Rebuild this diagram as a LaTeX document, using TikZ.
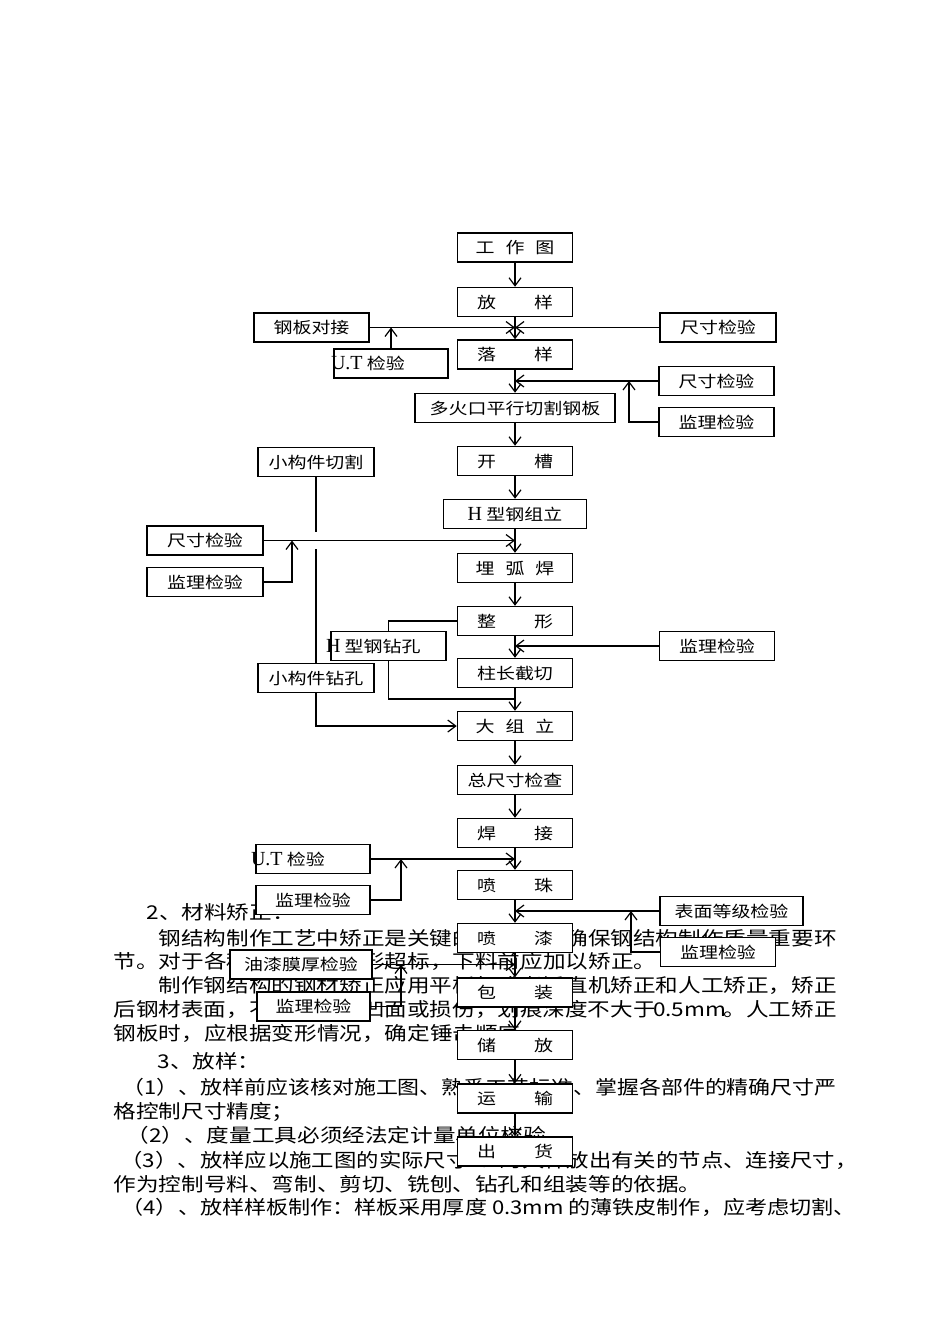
\documentclass[tikz,border=0pt]{standalone}
\usepackage{fontspec}
\usepackage{graphicx}
\usetikzlibrary{arrows.meta}
\newfontfamily\boxfont[FakeStretch=1.2]{Noto Sans CJK SC}
\newfontfamily\bodyfont[FakeStretch=1.19]{Noto Sans CJK SC}
\newfontfamily\latfont{Liberation Serif}
\newlength\pxu \setlength\pxu{0.5pt}
\newcommand\lat[1]{{\latfont\fontsize{10pt}{12pt}\selectfont #1}}
\newcommand\gapx[1]{\hspace{#1\pxu}}
\newcommand\fitw[2]{\resizebox{#1\pxu}{\height}{#2}}

\begin{document}
\begin{tikzpicture}[x=0.5pt,y=-0.5pt,line width=0.6pt,
  >={Straight Barb[length=4pt,width=6pt]},
  box/.style={draw,fill=white,line width=0.75pt,inner sep=0pt,
    minimum width=#1*0.5pt,minimum height=14.5pt,text height=6.6pt,text depth=0.6pt,
    font=\boxfont\fontsize{7.9pt}{9pt}\selectfont},
  box/.default=115,
  txt/.style={inner sep=0pt,anchor=west,text height=7.9pt,text depth=0.7pt,
    font=\bodyfont\fontsize{9.5pt}{11pt}\selectfont}]
  \fill[white] (0,0) rectangle (950,1344);
  \useasboundingbox (0,0) rectangle (950,1344);
  % body text behind the chart
  \node[txt] (t0) at (146,912) {2、材料矫正：};
  \node[txt] (t1) at (158,938) {\fitw{678}{钢结构制作工艺中矫正是关键的工序，是确保钢结构制作质量重要环}};
  \node[txt] (t2) at (113,961) {节。对于各种钢材如有变形超标，下料前应加以矫正。};
  \node[txt] (t3) at (158,985) {\fitw{678}{制作钢结构的钢材矫正应用平板机或者矫直机矫正和人工矫正，矫正}};
  \node[txt] (t4) at (113,1009) {\fitw{723}{后钢材表面，不应有明显凹面或损伤，划痕深度不大于\makebox[68\pxu]{0.5mm}。人工矫正}};
  \node[txt] (t5) at (113,1033) {钢板时，应根据变形情况，确定锤击顺序。};
  \node[txt] (t6) at (157,1061) {3、放样：};
  \node[txt] (t7) at (122,1087.5) {\fitw{714}{（1）、放样前应该核对施工图、熟悉工艺标准、掌握各部件的精确尺寸严}};
  \node[txt] (t8) at (113,1111) {格控制尺寸精度；};
  \node[txt] (t9) at (126,1135) {（2）、度量工具必须经法定计量单位校验。};
  \node[txt] (t10) at (120,1160) {\fitw{737}{（3）、放样应以施工图的实际尺寸1:1的大样放出有关的节点、连接尺寸，}};
  \node[txt] (t11) at (113,1184) {作为控制号料、弯制、剪切、铣刨、钻孔和组装等的依据。};
  \node[txt] (t12) at (121,1207) {\fitw{734}{（4）、放样样板制作：样板采用厚度 0.3mm 的薄铁皮制作，应考虑切割、}};
  % main column
  \node[box] (gzt) at (515,247.5) {工\gapx{11}作\gapx{11}图};
  \node[box] (fy) at (515,302) {放\gapx{38}样};
  \node[box] (ly) at (515,354.5) {落\gapx{38}样};
  \node[box=200] (dhk) at (515,408) {多火口平行切割钢板};
  \node[box] (kc) at (515,461) {开\gapx{38}槽};
  \node[box=143] (hzl) at (515,514) {\lat{H} 型钢组立};
  \node[box] (mhh) at (515,568) {埋\gapx{11}弧\gapx{11}焊};
  \node[box] (zx) at (515,621) {整\gapx{38}形};
  \node[box] (zcj) at (515,673) {柱长截切};
  \node[box] (dzl) at (515,726) {大\gapx{11}组\gapx{11}立};
  \node[box] (zcc) at (515,780) {总尺寸检查};
  \node[box] (hj) at (515,833) {焊\gapx{38}接};
  \node[box] (pz) at (515,885) {喷\gapx{38}珠};
  \node[box] (pq) at (515,938) {喷\gapx{38}漆};
  \node[box] (bz) at (515,992.5) {包\gapx{38}装};
  \node[box] (cf) at (515,1045) {储\gapx{38}放};
  \node[box] (ys) at (515,1098.5) {运\gapx{38}输};
  \node[box] (ch) at (515,1151.5) {出\gapx{38}货};
  % side boxes
  \node[box] (gbdj) at (311.5,327.5) {钢板对接};
  \node[box=114] (ut1) at (391,363.5) {\makebox[57pt][l]{\hspace{-1.5pt}\lat{U.T} 检验}};
  \node[box=116] (ccjy1) at (718,327.5) {尺寸检验};
  \node[box] (ccjy2) at (716.5,381) {尺寸检验};
  \node[box] (jljy1) at (716.5,422) {监理检验};
  \node[box=116] (xgjqg) at (316,462) {小构件切割};
  \node[box=116] (ccjy3) at (205,540.5) {尺寸检验};
  \node[box=116] (jljy2) at (205,582) {监理检验};
  \node[box] (hzk) at (388.5,646) {\makebox[57.5pt][l]{\hspace{-2.5pt}\lat{H} 型钢钻孔}};
  \node[box] (jljy3) at (717,646) {监理检验};
  \node[box=116] (xgjzk) at (316,678) {小构件钻孔};
  \node[box=114] (ut2) at (313,859) {\makebox[57pt][l]{\hspace{-2.5pt}\lat{U.T} 检验}};
  \node[box=114] (jljy4) at (313,900) {监理检验};
  \node[box=143] (bmdj) at (731.5,911) {表面等级检验};
  \node[box] (jljy5) at (718,952) {监理检验};
  \node[box=142] (yqmh) at (301,964.5) {油漆膜厚检验};
  \node[box=113] (jljy6) at (313.5,1006.5) {监理检验};
  % flow
  \foreach \a/\b in {gzt/fy,fy/ly,ly/dhk,dhk/kc,kc/hzl,hzl/mhh,mhh/zx,zx/zcj,zcj/dzl,
    dzl/zcc,zcc/hj,hj/pz,pz/pq,pq/bz,bz/cf,cf/ys,ys/ch} {\draw[->] (\a) -- (\b);}
  \coordinate (r1) at (629,422); \coordinate (r2) at (292,582);
  \coordinate (r3) at (401,900); \coordinate (r4) at (631,952);
  \coordinate (r5) at (401,1006.5);
  \coordinate (g1) at (316,532); \coordinate (g2) at (316,549);
  \coordinate (m1) at (515,699);
  \draw[->] (gbdj.east) -- (fy.south |- gbdj.east);
  \draw[->] (ccjy1.west) -- (fy.south |- ccjy1.west);
  \draw[->] (ut1.north) -- (ut1.north |- gbdj.east);
  \draw[->] (ccjy2.west) -- (ly.south |- ccjy2.west);
  \draw[->] (jljy1.west) -- (r1) -- (r1 |- ccjy2.west);
  \draw[->] (ccjy3.east) -- (hzl.south |- ccjy3.east);
  \draw[->] (jljy2.east) -- (r2) -- (r2 |- ccjy3.east);
  \draw (xgjqg.south) -- (g1); \draw (g2) -- (xgjzk.north);
  \draw (zx.west) -| (hzk.north); \draw (hzk.south) |- (m1);
  \draw[->] (jljy3.west) -- (zx.south |- jljy3.west);
  \draw[->] (xgjzk.south) |- (dzl.west);
  \draw[->] (ut2.east) -- (hj.south |- ut2.east);
  \draw[->] (jljy4.east) -- (r3) -- (r3 |- ut2.east);
  \draw[->] (bmdj.west) -- (pz.south |- bmdj.west);
  \draw[->] (jljy5.west) -- (r4) -- (r4 |- bmdj.west);
  \draw[->] (yqmh.east) -- (pq.south |- yqmh.east);
  \draw[->] (jljy6.east) -- (r5) -- (r5 |- yqmh.east);
\end{tikzpicture}
\end{document}
